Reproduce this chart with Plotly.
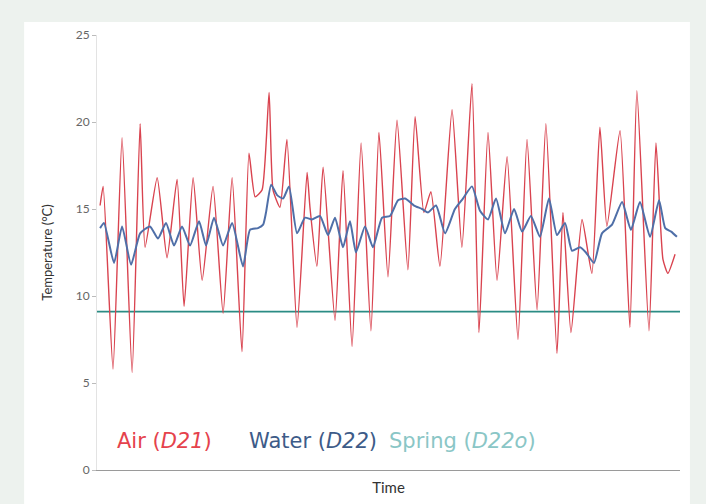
import plotly.graph_objects as go

# Time in days from the start of the record
air_t = [0.00, 0.15, 0.63, 1.07, 1.56, 1.95, 2.19, 2.78, 3.26, 3.75, 4.09, 4.53, 4.97, 5.50,
         5.99, 6.43, 6.91, 7.25, 7.55, 7.89, 8.23, 8.42, 8.76, 9.10, 9.59, 10.08, 10.22, 10.56,
         10.86, 11.44, 11.83, 12.27, 12.71, 13.19, 13.58, 14.02, 14.46, 14.99, 15.34, 15.77,
         16.11, 16.55, 17.14, 17.62, 18.11, 18.45, 18.89, 19.33, 19.82, 20.35, 20.79, 21.28,
         21.71, 22.25, 22.54, 22.93, 23.47, 23.95, 24.34, 24.68, 25.32, 25.80, 26.14, 26.73,
         27.07, 27.41, 27.65, 28.00]
air_temp = [15.2, 16.3, 5.8, 19.1, 5.6, 19.9, 12.8, 16.8, 12.2, 16.7, 9.4, 16.8, 10.9, 16.3,
            9.0, 16.8, 6.8, 18.2, 15.7, 16.1, 21.7, 16.1, 15.1, 19.0, 8.2, 17.1, 15.1, 11.7,
            17.4, 8.6, 17.2, 7.1, 18.8, 8.0, 19.4, 11.1, 20.1, 11.5, 20.3, 14.8,
            16.0, 11.7, 20.7, 12.8, 22.2, 7.9, 19.4, 10.9, 18.0, 7.5, 19.0, 9.2,
            19.9, 6.7, 14.8, 7.9, 14.4, 11.3, 19.7, 14.0, 19.5, 8.2, 21.8, 8.0,
            18.8, 12.1, 11.3, 12.4]

water_t = [0.00, 0.19, 0.68, 1.07, 1.51, 1.95, 2.43, 2.82, 3.21, 3.60, 3.99, 4.38, 4.82, 5.16,
           5.55, 5.99, 6.43, 6.96, 7.30, 7.69, 7.94, 8.08, 8.33, 8.62, 8.91, 9.20, 9.59, 9.98,
           10.32, 10.71, 11.10, 11.44, 11.83, 12.17, 12.46, 12.90, 13.29, 13.73, 14.12, 14.51,
           14.85, 15.29, 15.68, 15.97, 16.36, 16.80, 17.28, 17.67, 18.11, 18.50, 18.89, 19.28,
           19.72, 20.16, 20.55, 20.98, 21.42, 21.86, 22.25, 22.64, 22.98, 23.37, 23.66, 24.05,
           24.44, 24.93, 25.42, 25.85, 26.29, 26.78, 27.22, 27.52, 27.81, 28.09]
water_temp = [13.9, 14.2, 11.9, 14.0, 11.8, 13.6, 14.0, 13.3, 14.2, 12.9, 14.0, 12.9, 14.3, 12.9,
              14.5, 12.9, 14.2, 11.7, 13.8, 13.9, 14.1, 14.8, 16.4, 15.8, 15.6, 16.3, 13.6, 14.5,
              14.4, 14.6, 13.5, 14.5, 12.8, 14.3, 12.5, 14.0, 12.8, 14.5, 14.6, 15.5,
              15.6, 15.2, 15.0, 14.8, 15.2, 13.6, 15.0, 15.6, 16.3, 14.9, 14.4, 15.6,
              13.6, 15.0, 13.7, 14.6, 13.4, 15.6, 13.5, 14.2, 12.6, 12.8, 12.5, 11.9,
              13.6, 14.1, 15.4, 13.8, 15.4, 13.4, 15.5, 13.9, 13.7, 13.4]

spring_t = [-0.15, 28.24]
spring_temp = [9.1, 9.1]

y_ticks = [0, 5, 10, 15, 20, 25]

FONT = "Lato"
LEG_FONT = "DejaVu Sans"

fig = go.Figure()
fig.add_trace(go.Scatter(x=spring_t, y=spring_temp, mode="lines",
                         line=dict(color="#2b8c84", width=1.6), name="Spring (D22o)"))
fig.add_trace(go.Scatter(x=air_t, y=air_temp, mode="lines",
                         line=dict(color="#d9434f", width=1.4, shape="spline", smoothing=0.5),
                         name="Air (D21)"))
fig.add_trace(go.Scatter(x=water_t, y=water_temp, mode="lines",
                         line=dict(color="#4f6fa8", width=2, shape="spline", smoothing=0.5),
                         name="Water (D22)"))

fig.add_shape(type="rect", xref="paper", yref="paper", x0=-0.125, x1=1.017, y0=-0.1, y1=1.030,
              fillcolor="white", line=dict(width=0), layer="below")

legend_items = [("Air (<i>D21</i>)", "#e5424c", 0.031),
                ("Water (<i>D22</i>)", "#3d5b88", 0.257),
                ("Spring (<i>D22o</i>)", "#8ac6c6", 0.497)]
for txt, col, xp in legend_items:
    fig.add_annotation(text=txt, xref="paper", yref="paper", x=xp, y=0.067,
                       xanchor="left", yanchor="middle", showarrow=False,
                       font=dict(family=LEG_FONT, size=21, color=col))

fig.update_layout(
    width=706, height=504,
    margin=dict(l=97, r=26, t=35, b=34),
    paper_bgcolor="#edf2ee", plot_bgcolor="white",
    showlegend=False,
    font=dict(family=FONT, color="#444"),
    xaxis=dict(range=[-0.15, 28.24], showticklabels=False, ticks="", showgrid=False,
               zeroline=False, showline=True, linecolor="#9a9a9a", linewidth=1,
               title=dict(text="Time", font=dict(family=FONT, size=15, color="#333"), standoff=12)),
    yaxis=dict(range=[0, 25], tickvals=y_ticks, ticks="outside", ticklen=4, tickcolor="#bbb",
               showgrid=False, zeroline=False, showline=True, linecolor="#e3e3e3", linewidth=1,
               tickfont=dict(family=FONT, size=12, color="#666"),
               title=dict(text="Temperature (°C)", font=dict(family=FONT, size=13, color="#333"),
                          standoff=20)),
)

fig.write_html("out.html", config={"displayModeBar": False},
               post_script="document.body.style.margin='0';document.body.style.background='#edf2ee';")
